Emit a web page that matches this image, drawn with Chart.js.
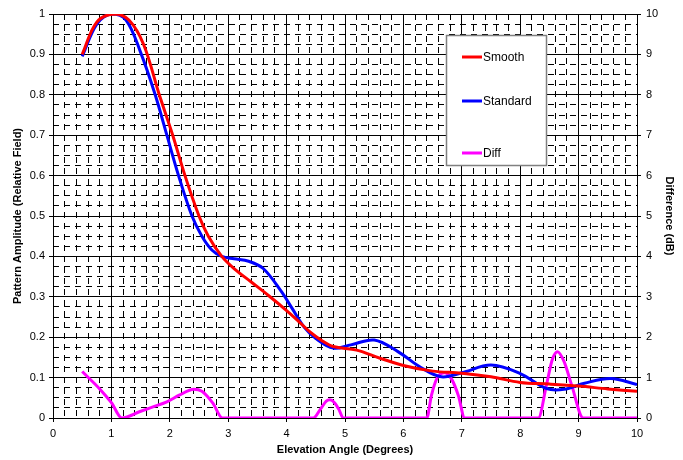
<!DOCTYPE html>
<html>
<head>
<meta charset="utf-8">
<script src="https://cdn.jsdelivr.net/npm/chart.js@4"></script>
<style>
html,body{margin:0;padding:0;background:#fff;}
</style>
</head>
<body>
<canvas id="myChart" width="683" height="460"></canvas>
<script>
// elevation angle (deg) / relative field
const smoothAngles = [0.5,0.75,1.05,1.3,1.55,1.82,2.05,2.26,2.5,2.66,2.89,3.1,3.4,3.7,4.0,4.2,4.4,4.6,4.8,5.2,5.6,6.0,6.5,7.0,7.5,8.0,8.5,9.0,9.5,10];
const smoothValues = [0.90,0.98,1.0,0.985,0.925,0.80,0.70,0.60,0.50,0.45,0.40,0.37,0.336,0.302,0.266,0.24,0.213,0.192,0.177,0.168,0.148,0.13,0.116,0.111,0.102,0.088,0.084,0.079,0.072,0.066];

const standardAngles = [0.5,0.75,1.0,1.25,1.5,1.75,1.95,2.15,2.38,2.55,2.72,2.89,3.1,3.35,3.6,3.9,4.1,4.3,4.5,4.8,5.1,5.5,5.9,6.3,6.65,7.0,7.5,8.0,8.45,8.75,9.1,9.55,10];
const standardValues = [0.895,0.975,1.0,0.985,0.905,0.80,0.70,0.60,0.50,0.45,0.416,0.40,0.394,0.388,0.37,0.315,0.27,0.225,0.197,0.173,0.181,0.193,0.165,0.125,0.102,0.112,0.131,0.11,0.073,0.071,0.086,0.098,0.083];

// difference in dB (right axis)
const diffAngles = [0.5,0.8,1.0,1.18,1.49,1.7,1.95,2.17,2.41,2.55,2.74,2.9,4.46,4.58,4.68,4.74,4.82,4.9,4.97,6.4,6.48,6.58,6.71,6.83,6.94,7.05,8.31,8.45,8.55,8.64,8.75,8.88,9.08,10];
const diffValues = [1.15,0.72,0.38,0.0,0.16,0.27,0.40,0.57,0.71,0.66,0.36,0.0,0,0.22,0.42,0.45,0.38,0.2,0,0,0.56,1.0,1.12,0.95,0.56,0,0,0.82,1.45,1.64,1.4,0.82,0,0];

const seriesNames = ['Smooth','Standard','Diff'];
const seriesColors = ['#ff0000','#0000ff','#ff00ff'];
const leftTicks = 0.1, rightTicks = 1, angleTicks = 1;

function pts(xs, ys){ return xs.map((x,i)=>({x:x,y:ys[i]})); }

const font = {family:'"Liberation Sans", Arial, sans-serif', size:11};
const titleFont = {family:'"Liberation Sans", Arial, sans-serif', size:11, weight:'bold'};

const legendBox = {
  id:'legendBox',
  afterDatasetsDraw(chart){
    const c = chart.ctx;
    c.save();
    c.fillStyle = '#fff';
    c.fillRect(446,35,101,131);
    c.strokeStyle = '#808080';
    c.lineWidth = 1.5;
    c.strokeRect(446.5,35.5,100,130);
    const ys = [57,101,153];
    c.font = '12px "Liberation Sans", Arial, sans-serif';
    c.textBaseline = 'middle';
    chart.data.datasets.forEach((ds,i)=>{
      c.strokeStyle = ds.borderColor;
      c.lineWidth = 3;
      c.beginPath();
      c.moveTo(462,ys[i]); c.lineTo(482,ys[i]);
      c.stroke();
      c.fillStyle = '#000';
      c.fillText(ds.label,483,ys[i]+1);
    });
    c.restore();
  }
};

const minorScale = (axis, pos, step) => ({
  type:'linear', axis:axis, position:pos, min:0, max: axis==='x'?10:1,
  ticks:{display:false, stepSize:step},
  grid:{color:'#000', lineWidth:1, drawTicks:false},
  border:{display:false, dash:[6,5]},
  afterFit(s){ if(axis==='x') s.height=0; else s.width=0; }
});

const fmt = v => String(+v.toFixed(2));

new Chart(document.getElementById('myChart'), {
  type:'line',
  data:{
    datasets:[
      {label:seriesNames[0], data:pts(smoothAngles,smoothValues), borderColor:seriesColors[0], yAxisID:'y', tension:0.35},
      {label:seriesNames[1], data:pts(standardAngles,standardValues), borderColor:seriesColors[1], yAxisID:'y', tension:0.35},
      {label:seriesNames[2], data:pts(diffAngles,diffValues), borderColor:seriesColors[2], yAxisID:'y2', cubicInterpolationMode:'monotone'}
    ]
  },
  options:{
    responsive:false,
    animation:false,
    layout:{padding:{top:14,left:0,right:0,bottom:0}},
    elements:{
      point:{radius:0},
      line:{borderWidth:3, fill:false}
    },
    plugins:{legend:{display:false}, tooltip:{enabled:false}},
    scales:{
      xMinor: minorScale('x','bottom',0.2),
      yMinor: minorScale('y','left',0.025),
      x:{
        type:'linear', min:0, max:10, position:'bottom',
        ticks:{stepSize:angleTicks, color:'#000', font:font, autoSkip:false, maxRotation:0, padding:5, callback:fmt},
        grid:{color:'#000', lineWidth:1, tickLength:4},
        border:{color:'#000'},
        title:{display:true, text:'Elevation Angle (Degrees)', color:'#000', font:titleFont, padding:{top:0,bottom:3}},
        afterFit(s){ s.height=42; }
      },
      y:{
        type:'linear', min:0, max:1, position:'left',
        ticks:{stepSize:leftTicks, color:'#000', font:font, padding:4, callback:fmt},
        grid:{color:'#000', lineWidth:1, tickLength:4},
        border:{color:'#000'},
        title:{display:true, text:'Pattern Amplitude (Relative Field)', color:'#000', font:titleFont, padding:{top:11,bottom:0}},
        afterFit(s){ s.width=53; }
      },
      y2:{
        type:'linear', min:0, max:10, position:'right',
        ticks:{stepSize:rightTicks, color:'#000', font:font, padding:5, callback:fmt},
        grid:{drawOnChartArea:false, color:'#000', tickLength:4},
        border:{color:'#000'},
        title:{display:true, text:'Difference (dB)', color:'#000', font:titleFont, padding:{top:7,bottom:0}},
        afterFit(s){ s.width=46; }
      }
    }
  },
  plugins:[legendBox]
});
</script>
</body>
</html>
